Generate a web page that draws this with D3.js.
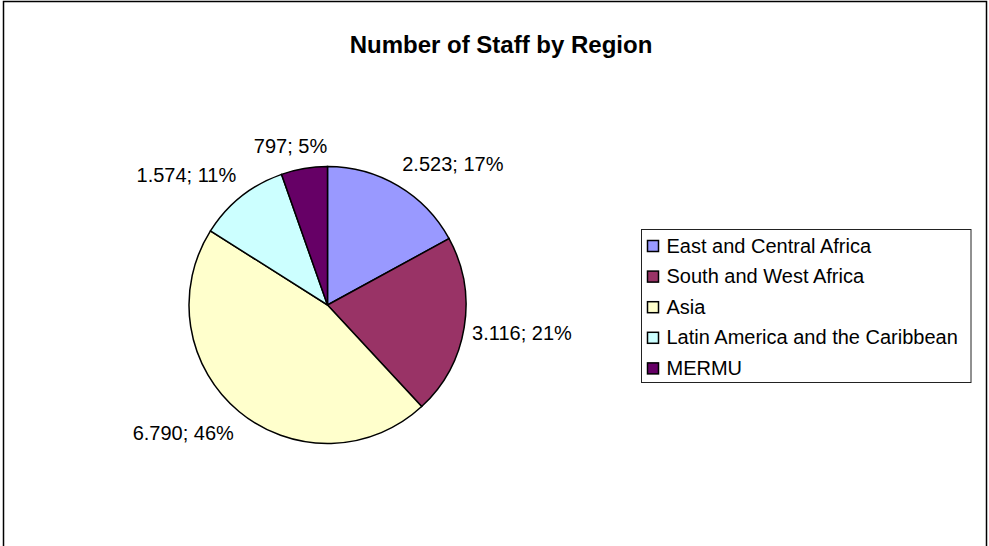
<!DOCTYPE html>
<html>
<head>
<meta charset="utf-8">
<script src="https://cdn.jsdelivr.net/npm/d3@7"></script>
<style>
  body { margin: 0; background: #fff; }
  text { font-family: Arial, "Liberation Sans", sans-serif; }
</style>
</head>
<body>
<div id="chart"></div>
<script>
// data
var regions = ["East and Central Africa", "South and West Africa", "Asia", "Latin America and the Caribbean", "MERMU"];
var staff = [2523, 3116, 6790, 1574, 797];
var valueLabels = ["2.523", "3.116", "6.790", "1.574", "797"];
var colors = ["#9999ff", "#993366", "#ffffcc", "#ccffff", "#660066"];

var svgWidth = 989, svgHeight = 546;
var cx = 327.5, cy = 305, radius = 138.5;

var svg = d3.select("#chart")
            .append("svg")
            .attr("width", svgWidth)
            .attr("height", svgHeight);

// chart frame
svg.append("rect")
   .attr("x", 3.5).attr("y", 1.5)
   .attr("width", 983).attr("height", 560)
   .attr("fill", "white")
   .attr("stroke", "black")
   .attr("stroke-width", 1.5);

svg.append("text")
   .attr("x", 501).attr("y", 44)
   .attr("text-anchor", "middle")
   .attr("dominant-baseline", "central")
   .style("font-weight", "bold")
   .style("font-size", "24px")
   .text("Number of Staff by Region");

var total = d3.sum(staff);
var pie = d3.pie().sort(null);
var arcs = pie(staff);
var arc = d3.arc().innerRadius(0).outerRadius(radius);

var g = svg.append("g").attr("transform", "translate(" + cx + "," + cy + ")");

g.selectAll("path")
  .data(arcs)
  .enter()
  .append("path")
  .attr("d", arc)
  .attr("fill", (d, i) => colors[i])
  .attr("stroke", "black")
  .attr("stroke-width", 1.5);

// labels outside end: anchor point on a circle, box pushed outward
var labelR = radius + 8;
var fontSize = 20;
var clamp = v => Math.max(-1, Math.min(1, v));
var labels = g.selectAll("text.lbl")
  .data(arcs)
  .enter()
  .append("text")
  .attr("class", "lbl")
  .style("font-size", fontSize + "px")
  .attr("dominant-baseline", "central")
  .attr("text-anchor", "middle")
  .text((d, i) => valueLabels[i] + "; " + Math.round(d.value / total * 100) + "%");

labels.each(function(d) {
  var a = (d.startAngle + d.endAngle) / 2;
  var px = Math.sin(a) * labelR, py = -Math.cos(a) * labelR;
  var w = this.getComputedTextLength(), h = 30;
  var sx = clamp(Math.sin(a) * 2);
  var sy = clamp(-Math.cos(a) * 2);
  d3.select(this)
    .attr("x", px + sx * w / 2)
    .attr("y", py + sy * h / 2);
});

// legend
var legX = 641.5, legY = 229.5, legW = 329.5, legH = 153, rowH = 30.6;
svg.append("rect")
   .attr("x", legX).attr("y", legY)
   .attr("width", legW).attr("height", legH)
   .attr("fill", "white")
   .attr("stroke", "#222")
   .attr("stroke-width", 1);

var legend = svg.selectAll("g.leg")
  .data(regions)
  .enter()
  .append("g")
  .attr("class", "leg")
  .attr("transform", (d, i) => "translate(" + (legX + 6) + "," + (legY + 16 + i * rowH) + ")");

legend.append("rect")
  .attr("x", 0).attr("y", -5)
  .attr("width", 11).attr("height", 11)
  .attr("fill", (d, i) => colors[i])
  .attr("stroke", "black")
  .attr("stroke-width", 1.5);

legend.append("text")
  .attr("x", 19).attr("y", 0)
  .attr("dominant-baseline", "central")
  .style("font-size", fontSize + "px")
  .text(d => d);
</script>
</body>
</html>
